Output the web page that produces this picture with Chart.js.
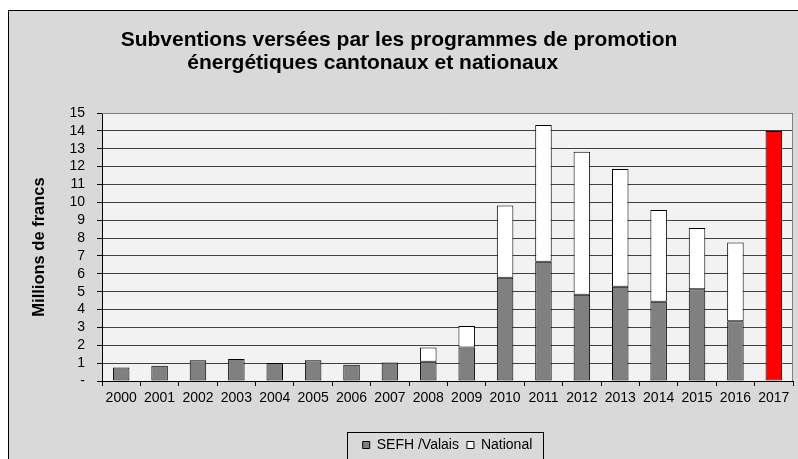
<!DOCTYPE html>
<html>
<head>
<meta charset="utf-8">
<script src="https://cdn.jsdelivr.net/npm/chart.js@4.4.1/dist/chart.umd.min.js"></script>
<style>
  html, body { margin: 0; padding: 0; background: #fff; }
  #wrap { width: 798px; height: 459px; }
</style>
</head>
<body>
<div id="wrap"><canvas id="chart"></canvas></div>
<script>
// Subventions par année (millions de francs)
const years = ['2000', '2001', '2002', '2003', '2004', '2005', '2006', '2007', '2008',
  '2009', '2010', '2011', '2012', '2013', '2014', '2015', '2016', '2017'];
const sefhValais = [0.76, 0.86, 1.16, 1.23, 1.01, 1.16, 0.91, 1.04, 1.08,
  1.88, 5.78, 6.68, 4.83, 5.28, 4.44, 5.13, 3.34, 14.0];
const national = [null, null, null, null, null, null, null, null, 0.79,
  1.2, 4.05, 7.65, 8.0, 6.59, 5.13, 3.43, 4.42, null];
const highlightYear = '2017';
const yTicks = [0, 1, 2, 3, 4, 5, 6, 7, 8, 9, 10, 11, 12, 13, 14, 15];

const FONT = 'Arial, "Liberation Sans", sans-serif';

// fond gris + cadre, bordure du graphique, cadre de la légende
const framePlugin = {
  id: 'frame',
  beforeDraw(chart) {
    const { ctx, chartArea: a } = chart;
    ctx.save();
    ctx.fillStyle = '#fff';
    ctx.fillRect(0, 0, chart.width, chart.height);
    ctx.fillStyle = '#d9d9d9';
    ctx.fillRect(8, 10, chart.width, chart.height);
    ctx.strokeStyle = '#000';
    ctx.lineWidth = 1;
    ctx.strokeRect(8.5, 10.5, chart.width, chart.height);
    ctx.fillStyle = '#f2f2f2';
    ctx.fillRect(a.left, a.top, a.right - a.left, a.bottom - a.top);

    const hb = chart.legend.legendHitBoxes;
    if (hb && hb.length) {
      const minX = Math.min(...hb.map(h => h.left));
      const maxX = Math.max(...hb.map(h => h.left + h.width));
      const cy = hb[0].top + hb[0].height / 2;
      ctx.strokeStyle = '#000';
      ctx.strokeRect(Math.round(minX - 16) + 0.5, Math.round(cy - 13) + 0.5,
        Math.round(maxX - minX + 26), 28);
    }
    ctx.restore();
  },
  beforeDatasetsDraw(chart) {
    const { ctx, chartArea: a } = chart;
    ctx.save();
    ctx.strokeStyle = '#808080';
    ctx.lineWidth = 1;
    ctx.beginPath();
    ctx.moveTo(a.left, Math.round(a.top) + 0.5);
    ctx.lineTo(Math.round(a.right) - 0.5, Math.round(a.top) + 0.5);
    ctx.lineTo(Math.round(a.right) - 0.5, a.bottom);
    ctx.stroke();
    ctx.restore();
  }
};

new Chart(document.getElementById('chart'), {
  type: 'bar',
  data: {
    labels: years,
    datasets: [{
      label: 'SEFH /Valais',
      data: sefhValais,
      backgroundColor: (c) => years[c.dataIndex] === highlightYear ? '#ff0000' : '#808080',
      borderColor: '#000',
      borderWidth: 1,
      borderSkipped: false
    }, {
      label: 'National',
      data: national,
      backgroundColor: '#fff',
      borderColor: '#000',
      borderWidth: 1,
      borderSkipped: false
    }]
  },
  options: {
    responsive: true,
    maintainAspectRatio: false,
    animation: false,
    datasets: {
      bar: { categoryPercentage: 1, barPercentage: 0.43 }
    },
    layout: { padding: { top: 0, left: 5, right: 5, bottom: -3 } },
    plugins: {
      tooltip: { enabled: false },
      title: {
        display: true,
        text: ['Subventions versées par les programmes de promotion',
          'énergétiques cantonaux et nationaux         '],
        color: '#000',
        font: { family: FONT, size: 21, weight: 'bold', lineHeight: 1.12 },
        padding: { top: 28, bottom: 38 }
      },
      legend: {
        position: 'bottom',
        fullSize: false,
        labels: {
          color: '#000',
          font: { family: FONT, size: 14 },
          boxWidth: 7,
          boxHeight: 7,
          padding: 8
        }
      }
    },
    scales: {
      x: {
        stacked: true,
        afterFit: (s) => { s.height = 49; },
        grid: {
          drawOnChartArea: false,
          drawTicks: true,
          tickLength: 5,
          color: '#000',
          offset: true
        },
        border: { color: '#000' },
        ticks: {
          color: '#000',
          font: { family: FONT, size: 14 },
          padding: 4,
          maxRotation: 0,
          autoSkip: false
        }
      },
      y: {
        stacked: true,
        min: 0,
        max: 15,
        afterFit: (s) => { s.width = 97; },
        afterBuildTicks: (s) => { s.ticks = yTicks.map(v => ({ value: v })); },
        grid: {
          color: '#404040',
          tickColor: '#000',
          tickLength: 5
        },
        border: { color: '#000' },
        ticks: {
          color: '#000',
          font: { family: FONT, size: 14 },
          padding: 12,
          autoSkip: false,
          callback: (v) => v === 0 ? '-' : v
        },
        title: {
          display: true,
          text: 'Millions de francs',
          color: '#000',
          font: { family: FONT, size: 16.5, weight: 'bold' },
          padding: { top: 25, bottom: 0 }
        }
      }
    }
  },
  plugins: [framePlugin]
});
</script>
</body>
</html>
